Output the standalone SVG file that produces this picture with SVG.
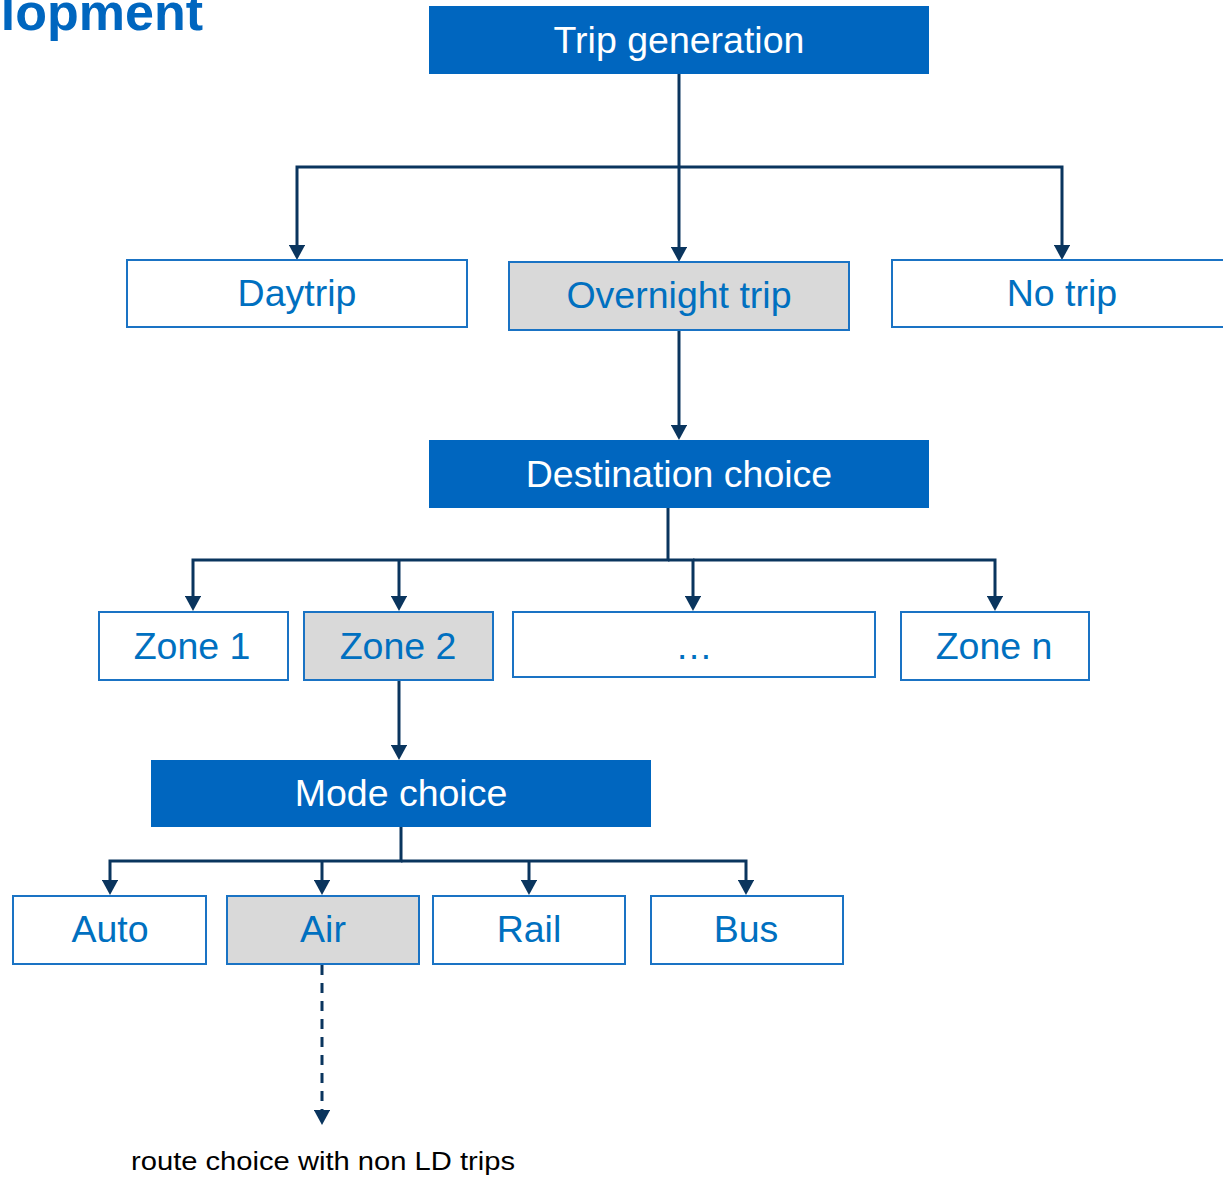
<svg xmlns="http://www.w3.org/2000/svg" width="1223" height="1177" viewBox="0 0 1223 1177">
<style>
.hdr{fill:#0066BF;}
.box{fill:#FFFFFF;stroke:#1A73C4;stroke-width:2;}
.sel{fill:#D9D9D9;stroke:#1A73C4;stroke-width:2;}
.tw{font-family:"Liberation Sans",Arial,sans-serif;font-size:37.5px;fill:#FFFFFF;text-anchor:middle;}
.tb{font-family:"Liberation Sans",Arial,sans-serif;font-size:37.5px;fill:#0070C0;text-anchor:middle;}
.ln{fill:none;stroke:#0A355E;stroke-width:3;}
.dl{fill:none;stroke:#0A355E;stroke-width:3;stroke-dasharray:10,8;}
</style>
<defs>
<marker id="ah" markerWidth="5" markerHeight="5.4" refX="1" refY="2.7" orient="auto" markerUnits="strokeWidth" viewBox="0 0 5 5.4">
<path d="M0,0 L5,2.7 L0,5.4 Z" fill="#0A355E"/>
</marker>
</defs>
<rect width="1223" height="1177" fill="#FFFFFF"/>
<text x="203" y="30" font-family="'Liberation Sans',Arial,sans-serif" font-size="52" font-weight="bold" fill="#0066BF" text-anchor="end">lopment</text>

<g id="connectors">
<path class="ln" d="M679,74 V250" marker-end="url(#ah)"/>
<path class="ln" d="M679,167 H297 V248" marker-end="url(#ah)"/>
<path class="ln" d="M679,167 H1062 V248" marker-end="url(#ah)"/>
<path class="ln" d="M679,330 V428" marker-end="url(#ah)"/>
<path class="ln" d="M668,508 V560 H193 V599" marker-end="url(#ah)"/>
<path class="ln" d="M399,560 V599" marker-end="url(#ah)"/>
<path class="ln" d="M668,560 H693 V599" marker-end="url(#ah)"/>
<path class="ln" d="M693,560 H995 V599" marker-end="url(#ah)"/>
<path class="ln" d="M399,680 V748" marker-end="url(#ah)"/>
<path class="ln" d="M401,827 V861 H110 V883" marker-end="url(#ah)"/>
<path class="ln" d="M322,861 V883" marker-end="url(#ah)"/>
<path class="ln" d="M401,861 H746 V883" marker-end="url(#ah)"/>
<path class="ln" d="M529,861 V883" marker-end="url(#ah)"/>
<path class="dl" d="M322,965 V1113" marker-end="url(#ah)"/>
</g>

<g id="trip-generation"><rect class="hdr" x="429" y="6" width="500" height="68"/><text class="tw" x="679" y="53">Trip generation</text></g>
<g id="daytrip"><rect class="box" x="127" y="260" width="340" height="67"/><text class="tb" x="297" y="306">Daytrip</text></g>
<g id="overnight-trip"><rect class="sel" x="509" y="262" width="340" height="68"/><text class="tb" x="679" y="308">Overnight trip</text></g>
<g id="no-trip"><rect class="box" x="892" y="260" width="340" height="67"/><text class="tb" x="1062" y="306">No trip</text></g>
<g id="destination-choice"><rect class="hdr" x="429" y="440" width="500" height="68"/><text class="tw" x="679" y="487">Destination choice</text></g>
<g id="zone-1"><rect class="box" x="99" y="612" width="189" height="68"/><text class="tb" x="192" y="659">Zone 1</text></g>
<g id="zone-2"><rect class="sel" x="304" y="612" width="189" height="68"/><text class="tb" x="398" y="659">Zone 2</text></g>
<g id="zone-ellipsis"><rect class="box" x="513" y="612" width="362" height="65"/><text class="tb" x="694" y="659">…</text></g>
<g id="zone-n"><rect class="box" x="901" y="612" width="188" height="68"/><text class="tb" x="994" y="659">Zone n</text></g>
<g id="mode-choice"><rect class="hdr" x="151" y="760" width="500" height="67"/><text class="tw" x="401" y="806">Mode choice</text></g>
<g id="auto"><rect class="box" x="13" y="896" width="193" height="68"/><text class="tb" x="110" y="942">Auto</text></g>
<g id="air"><rect class="sel" x="227" y="896" width="192" height="68"/><text class="tb" x="323" y="942">Air</text></g>
<g id="rail"><rect class="box" x="433" y="896" width="192" height="68"/><text class="tb" x="529" y="942">Rail</text></g>
<g id="bus"><rect class="box" x="651" y="896" width="192" height="68"/><text class="tb" x="746" y="942">Bus</text></g>
<g id="route-choice"><text x="131" y="1170" font-family="'Liberation Sans',Arial,sans-serif" font-size="25" fill="#000000" textLength="384" lengthAdjust="spacingAndGlyphs">route choice with non LD trips</text></g>
</svg>
